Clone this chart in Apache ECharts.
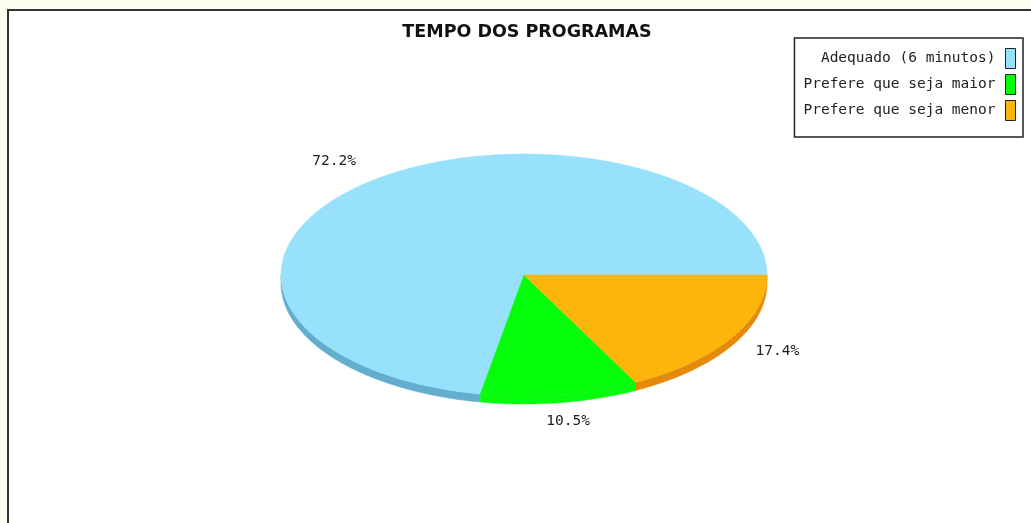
<!DOCTYPE html>
<html>
<head>
<meta charset="utf-8">
<style>
  html, body { margin: 0; padding: 0; background: #fdfdf0; }
  #chart { width: 1031px; height: 523px; }
</style>
<script src="https://cdn.jsdelivr.net/npm/echarts@6/dist/echarts.min.js"></script>
</head>
<body>
<div id="chart"></div>
<script>
// data
const categories = ['Adequado (6 minutos)', 'Prefere que seja maior', 'Prefere que seja menor'];
const shares = [72.2, 10.5, 17.4];
const labels = ['72.2%', '10.5%', '17.4%'];
const topColors = ['#97e1fc', '#05fc0b', '#fdb50c'];
const sideColors = ['#63aecf', '#05fc0b', '#e5890a'];

// pie geometry (ellipse)
const cx = 524, cy = 275, rx = 243, ry = 121, depth = 8, labelK = 1.22;

const total = shares.reduce((a, b) => a + b, 0);
const cum = [0];
shares.forEach((v, i) => cum.push(cum[i] + v));

function pt(a, dy) {
    return [cx + rx * Math.cos(a), cy - ry * Math.sin(a) + (dy || 0)];
}

function arc(a0, a1, dy) {
    const pts = [];
    const n = Math.max(2, Math.ceil(Math.abs(a1 - a0) / (Math.PI / 360)));
    for (let k = 0; k <= n; k++) pts.push(pt(a0 + (a1 - a0) * k / n, dy));
    return pts;
}

function makeRenderer(i) {
    return function (params, api) {
        const a0 = cum[i] / total * 2 * Math.PI;
        const a1 = cum[i + 1] / total * 2 * Math.PI;
        const children = [];
        // side wall for the front half
        const s0 = Math.max(a0, Math.PI), s1 = Math.min(a1, 2 * Math.PI);
        if (s1 > s0) {
            const top = arc(s0, s1, 0);
            const bottom = arc(s0, s1, depth).reverse();
            children.push({
                type: 'polygon',
                z2: 1,
                shape: { points: top.concat(bottom) },
                style: { fill: sideColors[i], stroke: sideColors[i], lineWidth: 0.5 }
            });
        }
        children.push({
            type: 'polygon',
            z2: 2,
            shape: { points: [[cx, cy]].concat(arc(a0, a1, 0)) },
            style: { fill: topColors[i], stroke: topColors[i], lineWidth: 0.5 }
        });
        const mid = (a0 + a1) / 2;
        children.push({
            type: 'text',
            z2: 3,
            x: cx + rx * labelK * Math.cos(mid),
            y: cy - ry * labelK * Math.sin(mid),
            style: {
                text: labels[i],
                fill: '#222',
                font: '14.5px "DejaVu Sans Mono"',
                align: 'center',
                verticalAlign: 'middle'
            }
        });
        return { type: 'group', children: children };
    };
}

const chart = echarts.init(document.getElementById('chart'));

chart.setOption({
    backgroundColor: '#fdfdf0',
    animation: false,
    graphic: [{
        type: 'rect',
        shape: { x: 8, y: 10, width: 1100, height: 600 },
        style: { fill: '#ffffff', stroke: '#333', lineWidth: 2 },
        z: -10
    }],
    title: {
        text: 'TEMPO DOS PROGRAMAS',
        left: 522,
        textAlign: 'center',
        top: 18,
        textStyle: {
            fontFamily: 'DejaVu Sans',
            fontSize: 17.5,
            fontWeight: 'bold',
            color: '#111'
        }
    },
    legend: {
        orient: 'vertical',
        right: 8,
        top: 38,
        align: 'right',
        icon: 'rect',
        itemWidth: 10,
        itemHeight: 20,
        itemGap: 5,
        padding: [10, 7, 16, 9],
        borderColor: '#222',
        borderWidth: 1.5,
        backgroundColor: '#fff',
        itemStyle: { borderColor: '#222', borderWidth: 1 },
        textStyle: {
            fontFamily: 'DejaVu Sans Mono',
            fontSize: 14.5,
            color: '#222',
            padding: [0, 5, 0, 0]
        },
        selectedMode: false,
        data: categories
    },
    series: categories.map((name, i) => ({
        type: 'custom',
        name: name,
        coordinateSystem: 'none',
        itemStyle: { color: topColors[i] },
        data: [shares[i]],
        renderItem: makeRenderer(i)
    }))
});
</script>
</body>
</html>
